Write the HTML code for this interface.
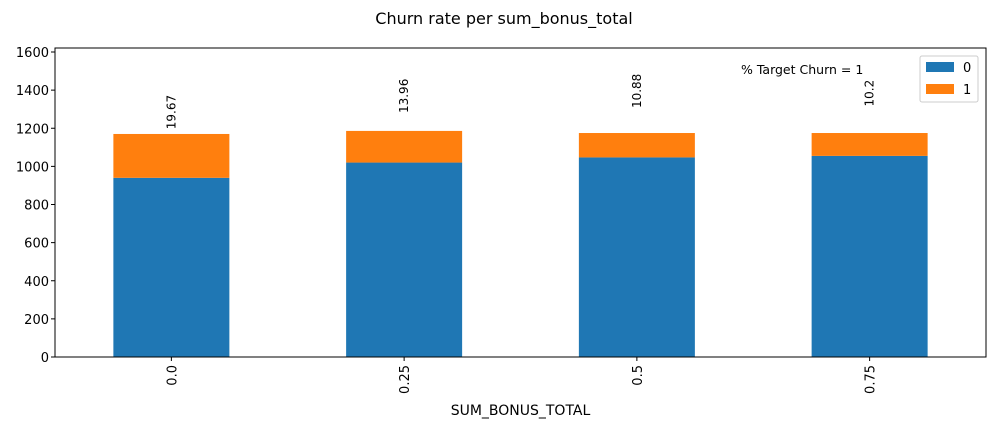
<!DOCTYPE html>
<html><head><meta charset="utf-8"><style>
body{margin:0;background:#fff;font-family:"Liberation Sans","DejaVu Sans",sans-serif;}
svg text{font-family:"DejaVu Sans","Liberation Sans",sans-serif;}
</style></head><body>
<svg id="chart" width="994" height="427" xmlns="http://www.w3.org/2000/svg">
<text x="504" y="24" text-anchor="middle" font-size="16">Churn rate per sum_bonus_total</text>
<g id="plot"></g>
</svg>
<script>
const categories = ["0.0","0.25","0.5","0.75"];
const series0 = [940,1020,1047,1055];
const series1 = [230,166,128,120];
const pctLabels = ["19.67","13.96","10.88","10.2"];
const yTicks = [0,200,400,600,800,1000,1200,1400,1600];

const L=55,R=986,T=48,B=357,yMax=1621;
const y=v=>B-(v/yMax)*(B-T);
const step=(R-L)/categories.length;
const xc=i=>L+step*(i+0.5);
const bw=116;
const g=document.getElementById('plot');
const NS="http://www.w3.org/2000/svg";
function mk(tag,attrs,txt){const e=document.createElementNS(NS,tag);for(const k in attrs)e.setAttribute(k,attrs[k]);if(txt!==undefined)e.textContent=txt;g.appendChild(e);return e;}

categories.forEach((c,i)=>{
  const t0=y(series0[i]), t1=y(series0[i]+series1[i]);
  const b0=mk('rect',{x:xc(i)-bw/2,y:t0,width:bw,height:B-t0,fill:'#1f77b4'});
  
  
  const b1=mk('rect',{x:xc(i)-bw/2,y:t1,width:bw,height:t0-t1,fill:'#ff7f0e'});
  
  
  const ly=t1-4-(20-parseFloat(pctLabels[i]))*2.3;
  const lt=mk('text',{x:0,y:0,'font-size':12,transform:`translate(${xc(i)+4},${ly}) rotate(-90)`},pctLabels[i]);
  
  
  mk('line',{x1:xc(i),x2:xc(i),y1:B,y2:B+4,stroke:'#000'});
  const xt=mk('text',{x:0,y:0,'font-size':13,'text-anchor':'end',transform:`translate(${xc(i)+5},${B+8}) rotate(-90)`},c);
  
  
});
yTicks.forEach(v=>{
  mk('line',{x1:L-4,x2:L,y1:y(v),y2:y(v),stroke:'#000'});
  const t=mk('text',{x:L-6,y:y(v)+5,'font-size':13,'text-anchor':'end'},v);
  
  
});
const fr=mk('rect',{x:L,y:T,width:R-L,height:B-T,fill:'none',stroke:'#000','stroke-width':1});


const xa=mk('text',{x:(L+R)/2,y:415,'font-size':14,'text-anchor':'middle'},'SUM_BONUS_TOTAL');


const an=mk('text',{x:741,y:74,'font-size':12.5},'% Target Churn = 1');


const lg=mk('rect',{x:920,y:56,width:58,height:46,fill:'#fff',stroke:'#ccc',rx:2});


mk('rect',{x:926,y:62,width:28,height:10,fill:'#1f77b4'});
const l0=mk('text',{x:963,y:72,'font-size':13},'0');


mk('rect',{x:926,y:84,width:28,height:10,fill:'#ff7f0e'});
const l1=mk('text',{x:963,y:94,'font-size':13},'1');


</script>
</body></html>
